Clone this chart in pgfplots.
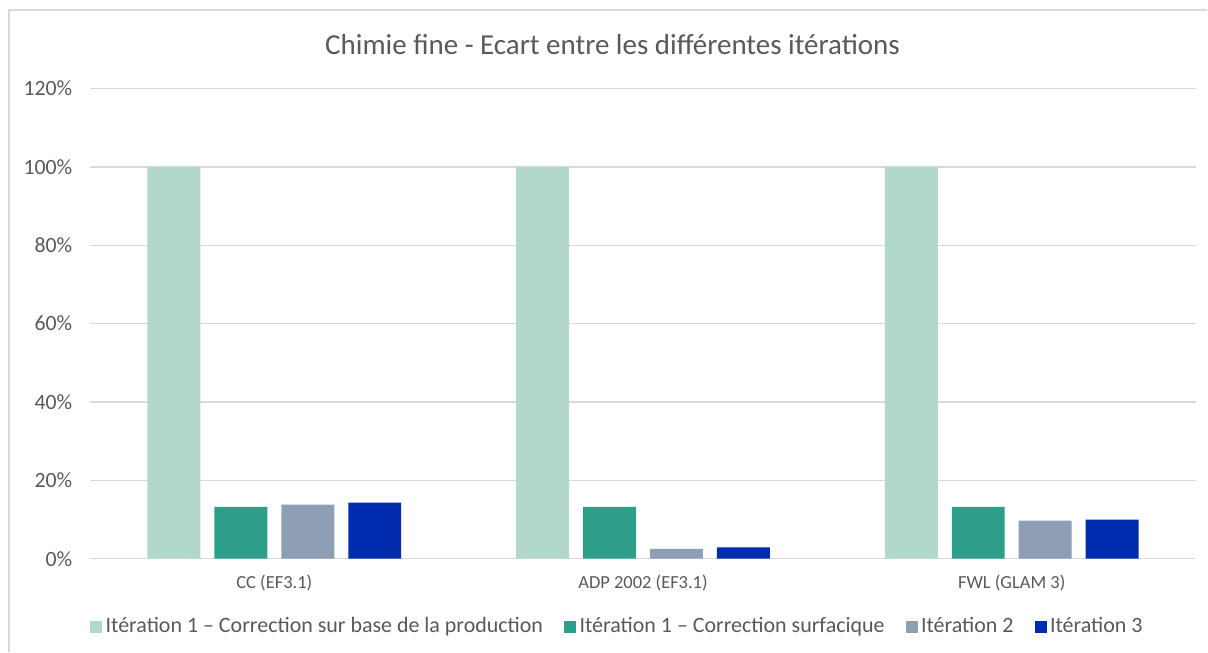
\documentclass[border=0pt]{standalone}
\usepackage{pgfplots}
\pgfplotsset{compat=1.18}
\usepackage{fontspec}
\setmainfont{Carlito}
\definecolor{cA}{RGB}{178,216,206}
\definecolor{cB}{RGB}{44,158,138}
\definecolor{cC}{RGB}{142,158,180}
\definecolor{cD}{RGB}{0,44,176}
\definecolor{txt}{RGB}{89,89,89}
\definecolor{grd}{RGB}{217,217,217}
\begin{document}
\begin{tikzpicture}
\begin{axis}[
  anchor=south west,
  scale only axis, width=22.14cm, height=9.408cm,
  xmin=-0.5, xmax=2.5, ymin=0, ymax=120,
  ybar=0pt, bar width=0.1436,
  xtick={0,1,2}, xticklabels={CC (EF3.1),ADP 2002 (EF3.1),FWL (GLAM 3)},
  ytick={0,20,...,120},
  yticklabel={\pgfmathprintnumber{\tick}\%},
  /pgf/number format/assume math mode=true,
  axis line style={draw=none},
  major tick style={draw=none},
  ymajorgrids, grid style={grd, line width=0.9pt},
  yticklabel style={font=\fontsize{12.4}{14}\selectfont, text=txt, xshift=-0.23cm},
  xticklabel style={font=\fontsize{10.5}{12}\selectfont, text=txt, yshift=-0.05cm},
  clip=false,
  legend columns=4,
  legend style={draw=none, at={(0.4775,-0.1446)}, anchor=center,
    font=\fontsize{12.5}{14}\selectfont, text=txt,
    /tikz/every even column/.append style={column sep=0.35cm}},
  legend image code/.code={\fill[#1] (0cm,-0.12cm) rectangle (0.24cm,0.12cm);},
  title={Chimie fine - Ecart entre les différentes itérations},
  title style={font=\fontsize{16.5}{19}\selectfont, text=txt, at={(0.4724,1.0714)}, anchor=center},
]
\addplot[fill=cA, draw=none, bar shift=-0.2724] coordinates {(0,100) (1,100) (2,100)};
\addplot[fill=cB, draw=none, bar shift=-0.0908] coordinates {(0,13.2) (1,13.2) (2,13.2)};
\addplot[fill=cC, draw=none, bar shift=0.0908] coordinates {(0,13.8) (1,2.5) (2,9.7)};
\addplot[fill=cD, draw=none, bar shift=0.2724] coordinates {(0,14.3) (1,2.9) (2,10.0)};
\legend{Itération 1 – Correction sur base de la production, Itération 1 – Correction surfacique, Itération 2, Itération 3}
\end{axis}
\begin{scope}[x=0.02cm,y=0.02cm]
\draw[grd, line width=0.8pt] (-81,-93) -- (-81,549) -- (1118,549);
\path[use as bounding box] (-90,559) rectangle (1118,-93);
\end{scope}
\end{tikzpicture}
\end{document}
